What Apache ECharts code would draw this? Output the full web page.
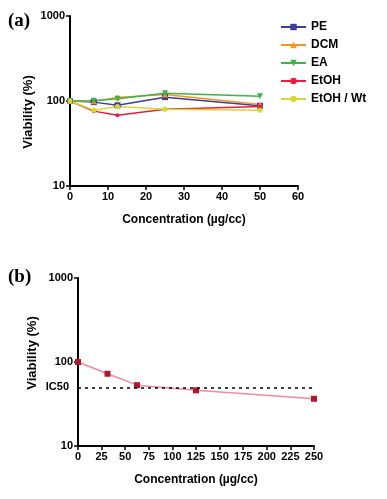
<!DOCTYPE html>
<html><head><meta charset="utf-8">
<script src="https://cdn.jsdelivr.net/npm/echarts@6/dist/echarts.min.js"></script>
<style>html,body{margin:0;padding:0;background:#fff}#c{width:387px;height:499px}</style>
</head><body><div id="c"></div>
<script>
// Panel (a)
const concA = [0, 6.25, 12.5, 25, 50];
const pe = [100, 97, 89, 111, 88];
const dcm = [100, 99, 110, 119, 91];
const ea = [100, 101, 106, 123, 114];
const etoh = [100, 76, 68, 80, 86];
const etohW = [100, 78, 86, 80, 78];
const xTicksA = [0, 10, 20, 30, 40, 50, 60];
// Panel (b)
const concB = [0, 31.25, 62.5, 125, 250];
const viabB = [100, 72.5, 53, 46, 36.5];
const ic50 = 50;
const yTicks = [10, 100, 1000];

const font = 'Arial, "Liberation Sans", sans-serif';
const pairs = (xs, ys) => xs.map((x, i) => [x, ys[i]]);
const triDown = 'path://M0,0 L10,0 L5,9 Z';

function lineSeries(name, data, color, symbol, size) {
  return {
    name, type: 'line', xAxisIndex: 0, yAxisIndex: 0,
    data: pairs(concA, data), symbol, symbolSize: size,
    lineStyle: {color, width: 1.5}, itemStyle: {color},
    animation: false
  };
}

function axisCommon() {
  return {
    axisLine: {show: true, lineStyle: {color: '#000', width: 2}},
    axisTick: {show: true, inside: false, length: 4, lineStyle: {color: '#000', width: 1.5}},
    splitLine: {show: false},
    axisLabel: {color: '#000', fontWeight: 'bold', fontSize: 11, fontFamily: font, margin: 5, formatter: v => String(v)}
  };
}

const chart = echarts.init(document.getElementById('c'), null, {renderer: 'canvas'});
chart.setOption({
  backgroundColor: '#fff',
  animation: false,
  grid: [
    {left: 70, top: 16, width: 228, height: 170},
    {left: 78, top: 278, width: 236, height: 168}
  ],
  xAxis: [
    Object.assign(axisCommon(), {gridIndex: 0, type: 'value', min: 0, max: 60, interval: 10,
      name: 'Concentration (µg/cc)', nameLocation: 'middle', nameGap: 28,
      nameTextStyle: {color: '#000', fontWeight: 'bold', fontSize: 12, fontFamily: font}}),
    Object.assign(axisCommon(), {gridIndex: 1, type: 'value', min: 0, max: 250, interval: 25,
      name: 'Concentration (µg/cc)', nameLocation: 'middle', nameGap: 28,
      nameTextStyle: {color: '#000', fontWeight: 'bold', fontSize: 12, fontFamily: font}})
  ],
  yAxis: [
    Object.assign(axisCommon(), {gridIndex: 0, type: 'log', logBase: 10, min: yTicks[0], max: yTicks[2]}),
    Object.assign(axisCommon(), {gridIndex: 1, type: 'log', logBase: 10, min: yTicks[0], max: yTicks[2]})
  ],
  legend: {
    orient: 'vertical', left: 275, top: 16, itemGap: 6, itemWidth: 25, itemHeight: 8,
    textStyle: {color: '#000', fontWeight: 'bold', fontSize: 12, fontFamily: font},
    data: ['PE', 'DCM', 'EA', 'EtOH', 'EtOH / Wt']
  },
  graphic: [
    {type: 'text', left: 8, top: 12, style: {text: '(a)', font: 'bold 19px "Liberation Serif", "DejaVu Serif", serif', fill: '#000'}},
    {type: 'text', left: 8, top: 268, style: {text: '(b)', font: 'bold 19px "Liberation Serif", "DejaVu Serif", serif', fill: '#000'}},
    {type: 'text', x: 28, y: 112, rotation: Math.PI / 2, style: {text: 'Viability (%)', font: 'bold 13px ' + font, fill: '#000', align: 'center', verticalAlign: 'middle'}},
    {type: 'text', x: 32, y: 353, rotation: Math.PI / 2, style: {text: 'Viability (%)', font: 'bold 13px ' + font, fill: '#000', align: 'center', verticalAlign: 'middle'}}
  ],
  series: [
    lineSeries('PE', pe, '#3c3c9a', 'rect', 6),
    lineSeries('DCM', dcm, '#f7941d', 'triangle', 6),
    lineSeries('EA', ea, '#39b54a', triDown, 6),
    lineSeries('EtOH', etoh, '#ec1c3a', 'circle', 4),
    lineSeries('EtOH / Wt', etohW, '#d8d832', 'circle', 5),
    {
      name: 'B', type: 'line', xAxisIndex: 1, yAxisIndex: 1,
      data: pairs(concB, viabB), symbol: 'rect', symbolSize: 6,
      lineStyle: {color: '#f38a98', width: 1.5}, itemStyle: {color: '#b0182c'},
      markLine: {
        silent: true, symbol: 'none',
        lineStyle: {color: '#000', type: [3, 4], width: 1.5},
        label: {show: true, position: 'start', formatter: 'IC50', color: '#000', fontWeight: 'bold', fontSize: 11, fontFamily: font, distance: 9},
        data: [{yAxis: ic50}]
      }
    }
  ]
});
</script></body></html>
